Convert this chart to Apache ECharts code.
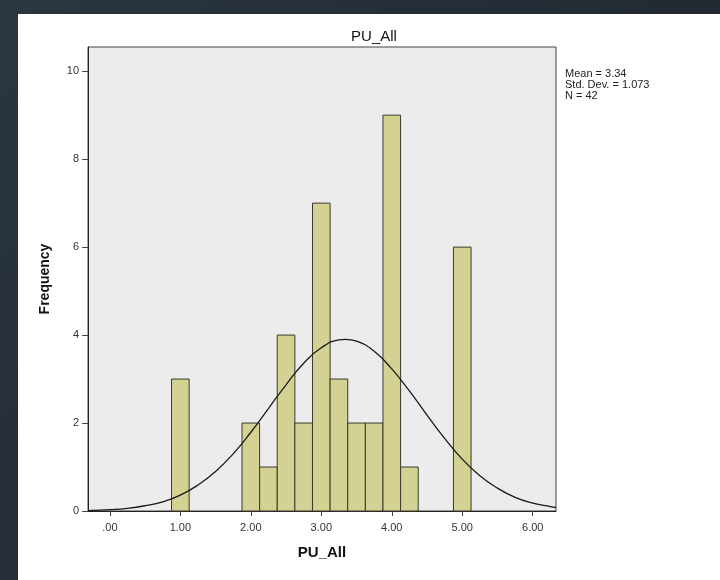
<!DOCTYPE html>
<html>
<head>
<meta charset="utf-8">
<title>PU_All</title>
<script src="https://cdn.jsdelivr.net/npm/echarts@6/dist/echarts.min.js"></script>
<style>
  html, body { margin: 0; padding: 0; }
  #chart { width: 720px; height: 580px; }
</style>
</head>
<body>
<div id="chart"></div>
<script>
// histogram bins (center of bin, count)
var binCenters = [1.00, 2.00, 2.25, 2.50, 2.75, 3.00, 3.25, 3.50, 3.75, 4.00, 4.25, 5.00]
var binCounts = [3, 2, 1, 4, 2, 7, 3, 2, 2, 9, 1, 6]
var binWidth = 0.25

// normal curve
var curveX = [-0.31, -0.25, 0, 0.25, 0.5, 0.75, 1, 1.25, 1.5, 1.75, 2, 2.25, 2.5, 2.75, 3, 3.25, 3.34, 3.5, 3.75, 4, 4.25, 4.5, 4.75, 5, 5.25, 5.5, 5.75, 6, 6.25, 6.33]
var curveY = [0.01, 0.015, 0.03, 0.06, 0.12, 0.21, 0.36, 0.59, 0.90, 1.30, 1.79, 2.33, 2.87, 3.36, 3.71, 3.89, 3.90, 3.86, 3.63, 3.23, 2.73, 2.18, 1.65, 1.18, 0.80, 0.52, 0.31, 0.18, 0.10, 0.08]

// tick labels
var xTicks = [0, 1, 2, 3, 4, 5, 6]
var xTickLabels = ['.00', '1.00', '2.00', '3.00', '4.00', '5.00', '6.00']
var yTicks = [0, 2, 4, 6, 8, 10]
var yTickLabels = ['0', '2', '4', '6', '8', '10']

var statLines = ['Mean = 3.34', 'Std. Dev. = 1.073', 'N = 42']

var barData = binCenters.map(function (c, i) { return [c, binCounts[i]] })
var curveData = curveX.map(function (x, i) { return [x, curveY[i]] })

var chart = echarts.init(document.getElementById('chart'))
chart.setOption({
  backgroundColor: {
    type: 'linear', x: 0, y: 0, x2: 1, y2: 1,
    colorStops: [
      { offset: 0, color: '#2b3640' },
      { offset: 1, color: '#1c2128' }
    ]
  },
  animation: false,
  textStyle: { fontFamily: 'Liberation Sans, Arial, sans-serif' },
  graphic: [
    {
      type: 'rect',
      z: -10,
      shape: { x: 18, y: 14, width: 702, height: 566 },
      style: { fill: '#ffffff' }
    },
    {
      type: 'text',
      left: 565,
      top: 68,
      style: {
        text: statLines.join('\n'),
        fill: '#222',
        font: '11px "Liberation Sans Narrow", "Liberation Sans", Arial',
        lineHeight: 11
      }
    }
  ],
  title: {
    text: 'PU_All',
    left: 369,
    top: 24,
    textAlign: 'center',
    textStyle: { fontSize: 15, fontWeight: 'normal', color: '#111' }
  },
  grid: {
    left: 88,
    top: 47,
    right: 164,
    bottom: 69,
    show: true,
    backgroundColor: '#ececec',
    borderColor: '#444',
    borderWidth: 1
  },
  xAxis: {
    type: 'value',
    min: -0.31,
    max: 6.33,
    name: 'PU_All',
    nameLocation: 'middle',
    nameGap: 34,
    nameTextStyle: { fontSize: 15, fontWeight: 'bold', color: '#111' },
    splitLine: { show: false },
    axisLine: { show: true, onZero: false, lineStyle: { color: '#222', width: 1 } },
    axisTick: { show: true, customValues: xTicks, length: 5, lineStyle: { color: '#444' } },
    axisLabel: {
      customValues: xTicks,
      color: '#333',
      fontSize: 11,
      margin: 11,
      formatter: function (v) { return xTickLabels[xTicks.indexOf(v)] }
    }
  },
  yAxis: {
    type: 'value',
    min: 0,
    max: 10.55,
    name: 'Frequency',
    nameLocation: 'middle',
    nameGap: 36,
    nameRotate: 90,
    nameTextStyle: { fontSize: 14, fontWeight: 'bold', color: '#111' },
    splitLine: { show: false },
    axisLine: { show: true, onZero: false, lineStyle: { color: '#222', width: 1 } },
    axisTick: { show: true, customValues: yTicks, length: 6, lineStyle: { color: '#444' } },
    axisLabel: {
      customValues: yTicks,
      color: '#333',
      fontSize: 11,
      margin: 9,
      formatter: function (v) { return yTickLabels[yTicks.indexOf(v)] }
    }
  },
  series: [
    {
      type: 'custom',
      z: 2,
      data: barData,
      encode: { x: 0, y: 1 },
      renderItem: function (params, api) {
        var x = api.value(0)
        var y = api.value(1)
        var p0 = api.coord([x - binWidth / 2, y])
        var p1 = api.coord([x + binWidth / 2, 0])
        return {
          type: 'rect',
          shape: { x: p0[0], y: p0[1], width: p1[0] - p0[0], height: p1[1] - p0[1] },
          style: { fill: '#d3d293', stroke: '#3a3a2c', lineWidth: 1 }
        }
      }
    },
    {
      type: 'line',
      z: 3,
      data: curveData,
      smooth: true,
      showSymbol: false,
      lineStyle: { color: '#1a1a1a', width: 1.3 }
    }
  ]
})
</script>
</body>
</html>
